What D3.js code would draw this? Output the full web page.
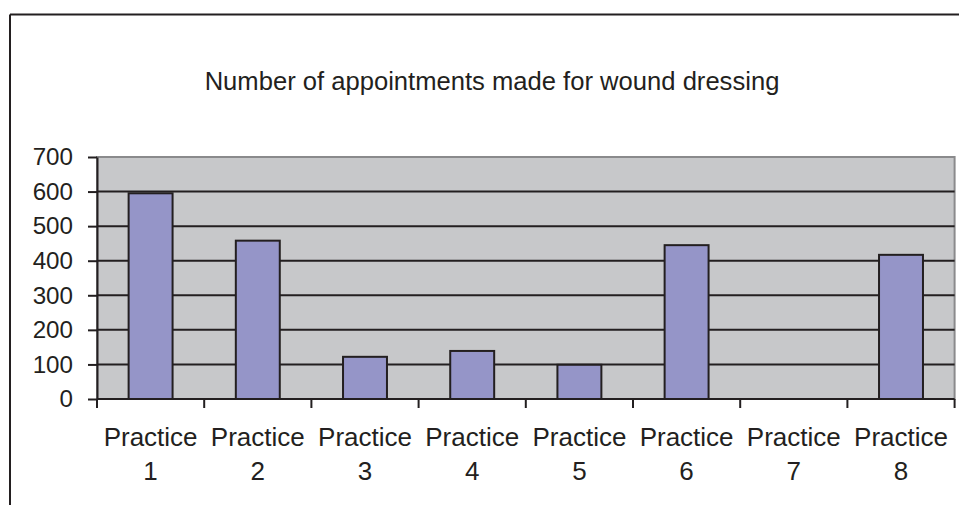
<!DOCTYPE html>
<meta charset="utf-8">
<title>Number of appointments made for wound dressing</title>
<style>
    body { margin: 0; background: #fff; }
    text {
        font-family: "Liberation Sans", Arial, sans-serif;
        fill: #231f20;
    }
    .grid line { stroke: #231f20; stroke-width: 2px; }
    .bar { fill: #9595c8; stroke: #231f20; stroke-width: 2px; }
</style>

<svg width="959" height="505"></svg>

<script src="https://d3js.org/d3.v7.min.js"></script>
<script>

    var practices = ["Practice 1", "Practice 2", "Practice 3", "Practice 4",
                     "Practice 5", "Practice 6", "Practice 7", "Practice 8"];
    var appointments = [595, 458, 122, 139, 99, 445, 0, 417];
    var yTicks = [0, 100, 200, 300, 400, 500, 600, 700];
    var title = "Number of appointments made for wound dressing";

    var svg = d3.select("svg");

    var plot = { left: 97, right: 954.6, top: 157, bottom: 399 };

    var x = d3.scaleBand()
        .domain(practices)
        .range([plot.left, plot.right])
        .padding(0);

    var y = d3.scaleLinear()
        .domain([0, 700])
        .range([plot.bottom, plot.top]);

    // outer frame (only top and left edges visible)
    svg.append("line")
        .attr("x1", 10).attr("y1", 14.5).attr("x2", 959).attr("y2", 14.5)
        .attr("stroke", "#231f20").attr("stroke-width", 2);
    svg.append("line")
        .attr("x1", 10).attr("y1", 14.5).attr("x2", 10).attr("y2", 505)
        .attr("stroke", "#231f20").attr("stroke-width", 2);

    svg.append("text")
        .attr("x", 492)
        .attr("y", 90)
        .attr("text-anchor", "middle")
        .style("font-size", "25.6px")
        .text(title);

    // plot area background
    svg.append("rect")
        .attr("x", plot.left)
        .attr("y", plot.top)
        .attr("width", plot.right - plot.left)
        .attr("height", plot.bottom - plot.top)
        .attr("fill", "#c7c8ca")
        .attr("stroke", "#8a8a8c")
        .attr("stroke-width", 2);

    // gridlines
    svg.append("g")
        .attr("class", "grid")
        .selectAll("line")
        .data(yTicks.filter(function (d) { return d > 0 && d < 700; }))
        .enter().append("line")
        .attr("x1", plot.left)
        .attr("x2", plot.right)
        .attr("y1", function (d) { return y(d); })
        .attr("y2", function (d) { return y(d); });

    var bw = x.bandwidth() * 0.41;

    svg.append("g")
        .selectAll("rect")
        .data(appointments)
        .enter().append("rect")
        .attr("class", "bar")
        .attr("x", function (d, i) { return x(practices[i]) + x.bandwidth() / 2 - bw / 2; })
        .attr("y", function (d) { return y(d); })
        .attr("width", bw)
        .attr("height", function (d) { return plot.bottom - y(d); })
        .style("display", function (d) { return d > 0 ? null : "none"; });

    // y axis
    var yAxis = svg.append("g")
        .attr("transform", "translate(" + plot.left + ",0)")
        .call(d3.axisLeft(y).tickValues(yTicks).tickSize(9).tickPadding(15).tickSizeOuter(0));
    yAxis.select(".domain").attr("stroke", "#231f20").attr("stroke-width", 2);
    yAxis.selectAll(".tick line").attr("stroke", "#231f20").attr("stroke-width", 2);
    yAxis.selectAll(".tick text")
        .style("font-size", "24.2px")
        .attr("fill", "#231f20");

    // x axis: ticks at category boundaries
    var boundaries = practices.map(function (p) { return x(p); }).concat([plot.right]);
    svg.append("line")
        .attr("x1", plot.left).attr("x2", plot.right)
        .attr("y1", plot.bottom).attr("y2", plot.bottom)
        .attr("stroke", "#231f20").attr("stroke-width", 2);
    svg.append("g")
        .selectAll("line")
        .data(boundaries)
        .enter().append("line")
        .attr("x1", function (d) { return d; })
        .attr("x2", function (d) { return d; })
        .attr("y1", plot.bottom)
        .attr("y2", plot.bottom + 9)
        .attr("stroke", "#231f20")
        .attr("stroke-width", 2);

    var labels = svg.append("g")
        .selectAll("text")
        .data(practices)
        .enter().append("text")
        .attr("text-anchor", "middle")
        .style("font-size", "26px")
        .attr("transform", function (d) {
            return "translate(" + (x(d) + x.bandwidth() / 2) + ",0)";
        });
    labels.append("tspan")
        .attr("x", 0).attr("y", 446)
        .text(function (d) { return d.split(" ")[0]; });
    labels.append("tspan")
        .attr("x", 0).attr("y", 480)
        .text(function (d) { return d.split(" ")[1]; });

</script>
